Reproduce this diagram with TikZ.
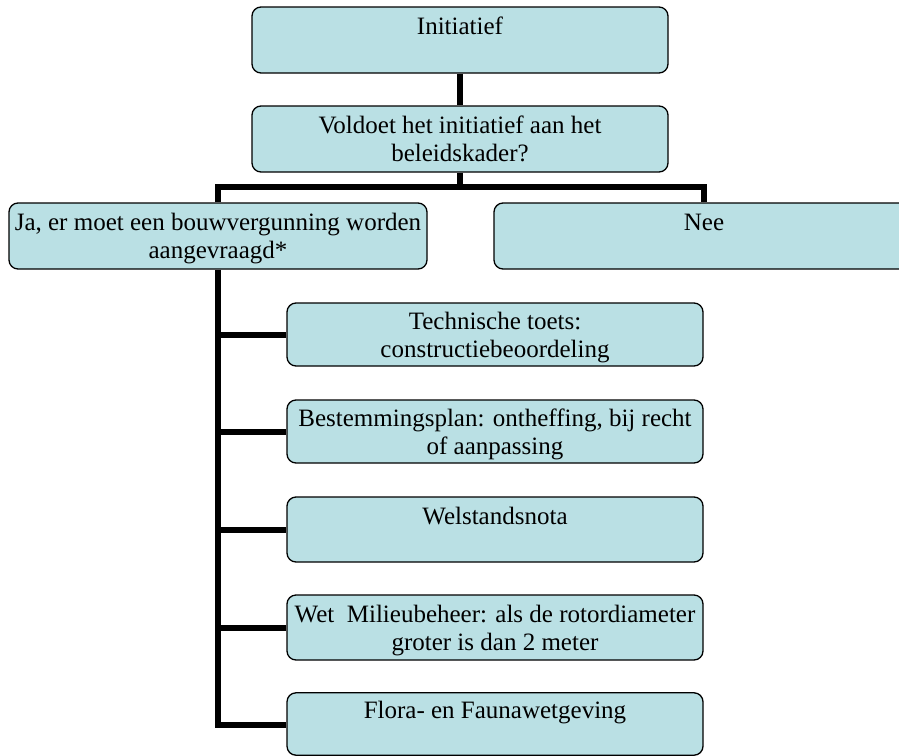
\documentclass[tikz,border=0pt]{standalone}
\usepackage{fontspec}
\setmainfont{Liberation Serif}
\definecolor{boxfill}{RGB}{186,224,228}
\newcommand{\myTop}{\rule{0pt}{26pt}}
\newcommand{\myBot}{\strut}
\tikzset{
  box/.style={draw=black, line width=1.3pt, fill=boxfill, rounded corners=9pt,
    align=center, inner sep=0pt, font=\fontsize{25}{28}\selectfont},
  conn/.style={draw=black, line width=6pt, line join=miter}
}
\begin{document}
\begin{tikzpicture}[x=1pt,y=-1pt]
\useasboundingbox (0,0) rectangle (899,755);
\node[box, minimum width=416pt, minimum height=66pt] (init) at (460,40) {\myTop Initiatief\\\myBot};
\node[box, minimum width=416pt, minimum height=66pt] (q) at (460,139) {\myTop Voldoet het initiatief aan het\\beleidskader?\myBot};
\node[box, minimum width=418pt, minimum height=66pt] (ja) at (218,236) {\myTop Ja, er moet een bouwvergunning worden\\aangevraagd*\myBot};
\node[box, minimum width=420pt, minimum height=66pt] (nee) at (704,236) {\myTop Nee\\\myBot};
\node[box, minimum width=416pt, minimum height=63pt] (tech) at (495,334.5) {\myTop Technische toets:\\constructiebeoordeling\myBot};
\node[box, minimum width=416pt, minimum height=63pt] (best) at (495,431.5) {\myTop Bestemmingsplan: ontheffing, bij recht\\of aanpassing\myBot};
\node[box, minimum width=416pt, minimum height=65pt] (wel) at (495,529.5) {\myTop Welstandsnota\\\myBot};
\node[box, minimum width=416pt, minimum height=65pt] (wet) at (495,627.5) {\myTop Wet\ \ Milieubeheer: als de rotordiameter\\groter is dan 2 meter\myBot};
\node[box, minimum width=416pt, minimum height=62pt] (flora) at (495,724) {\myTop Flora- en Faunawetgeving\\\myBot};
\coordinate (hl) at (218,187);
\coordinate (hr) at (704,187);
\coordinate (sb) at (218,725);
\draw[conn] (init.south) -- (q.north);
\draw[conn] (q.south) -- (q.south |- hl);
\draw[conn] (ja.north -| hl) -- (hl) -- (hr) -- (nee.north -| hr);
\draw[conn] (ja.south) -- (sb) -- (flora.west |- sb);
\draw[conn] (tech.west -| sb) -- (tech.west);
\draw[conn] (best.west -| sb) -- (best.west);
\draw[conn] (wel.west -| sb) -- (wel.west);
\draw[conn] (wet.west -| sb) -- (wet.west);
\end{tikzpicture}
\end{document}
